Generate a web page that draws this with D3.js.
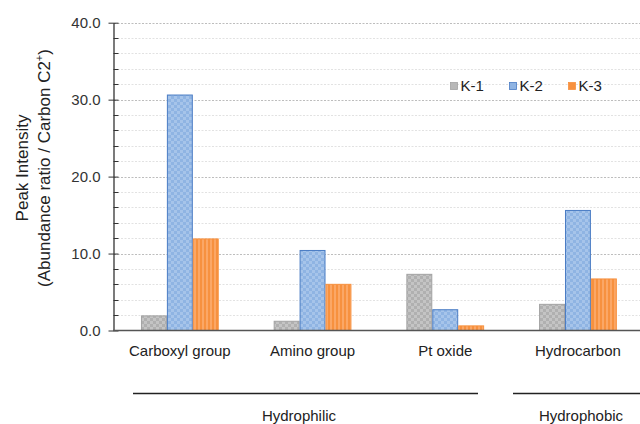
<!DOCTYPE html>
<html>
<head>
<meta charset="utf-8">
<script src="https://cdn.jsdelivr.net/npm/d3@7"></script>
<style>
  html, body { margin: 0; padding: 0; background: #fff; }
  svg { display: block; font-family: "Liberation Sans", Arial, sans-serif; }
</style>
</head>
<body>
<svg id="chart" width="640" height="424"></svg>
<script>
const categories = ["Carboxyl group", "Amino group", "Pt oxide", "Hydrocarbon"];
const seriesNames = ["K-1", "K-2", "K-3"];
const k1 = [1.9, 1.2, 7.3, 3.4];
const k2 = [30.6, 10.4, 2.7, 15.6];
const k3 = [11.9, 6.0, 0.6, 6.7];
const majorTicks = [0, 10, 20, 30, 40];
const minorTicks = [2, 4, 6, 8, 12, 14, 16, 18, 22, 24, 26, 28, 32, 34, 36, 38];
const groups = [
  { name: "Hydrophilic", from: 0, to: 2 },
  { name: "Hydrophobic", from: 3, to: 3 }
];

const seriesValues = [k1, k2, k3];
const svg = d3.select("#chart");

// patterns
const defs = svg.append("defs");
function checker(id, base, dot) {
  const p = defs.append("pattern").attr("id", id).attr("patternUnits", "userSpaceOnUse")
    .attr("width", 6).attr("height", 6);
  p.append("rect").attr("width", 6).attr("height", 6).attr("fill", base);
  p.append("rect").attr("x", 0).attr("y", 0).attr("width", 3).attr("height", 3).attr("fill", dot);
  p.append("rect").attr("x", 3).attr("y", 3).attr("width", 3).attr("height", 3).attr("fill", dot);
}
checker("pat0", "#c4c4c4", "#b0b0b0");
checker("pat1", "#8fb4e3", "#a6c4ea");
(function () {
  const p = defs.append("pattern").attr("id", "pat2").attr("patternUnits", "userSpaceOnUse")
    .attr("width", 4).attr("height", 4);
  p.append("rect").attr("width", 4).attr("height", 4).attr("fill", "#f7913f");
  p.append("rect").attr("x", 2).attr("width", 2).attr("height", 4).attr("fill", "#fba766");
})();

const fills = ["url(#pat0)", "url(#pat1)", "url(#pat2)"];
const strokes = ["#a3a3a3", "#4a7cc4", "#f7913f"];
const legendFills = ["#b8b8b8", "#8fb4e3", "#f7913f"];

const x0 = d3.scaleBand().domain(categories).range([113.5, 644.3]).paddingInner(0.414).paddingOuter(0.207);
const x1 = d3.scaleBand().domain(seriesNames).range([0, x0.bandwidth()]);
const y = d3.scaleLinear().domain([0, 40]).range([330.5, 22.7]);

// gridlines
svg.append("g").selectAll("line").data(minorTicks).join("line")
  .attr("x1", 114).attr("x2", 640)
  .attr("y1", d => Math.round(y(d)) + 0.5).attr("y2", d => Math.round(y(d)) + 0.5)
  .attr("stroke", "#e2e2e2").attr("stroke-dasharray", "2,1.5");
svg.append("g").selectAll("line").data(majorTicks.filter(d => d > 0)).join("line")
  .attr("x1", 114).attr("x2", 640)
  .attr("y1", d => Math.round(y(d)) + 0.5).attr("y2", d => Math.round(y(d)) + 0.5)
  .attr("stroke", "#bdbdbd").attr("stroke-dasharray", "2,1.5");

// bars
const barData = [];
categories.forEach((c, i) => seriesNames.forEach((s, j) => barData.push({ c, s, j, v: seriesValues[j][i] })));
svg.append("g").selectAll("rect").data(barData).join("rect")
  .attr("x", d => x0(d.c) + x1(d.s) + 0.5)
  .attr("y", d => y(d.v))
  .attr("width", x1.bandwidth() - 1)
  .attr("height", d => y(0) - y(d.v))
  .attr("fill", d => fills[d.j])
  .attr("stroke", d => strokes[d.j])
  .attr("stroke-width", 1);

// y axis
const yAxis = svg.append("g").attr("transform", "translate(113.5,0)")
  .call(d3.axisLeft(y).tickValues(majorTicks).tickFormat(d3.format(".1f")).tickSizeInner(5).tickSizeOuter(0));
yAxis.select(".domain").attr("stroke", "#333").attr("stroke-width", 1.3);
yAxis.selectAll(".tick line").attr("stroke", "#333").attr("x2", -5).attr("x1", 5);
yAxis.selectAll(".tick text").attr("font-size", 15).attr("fill", "#333").attr("x", -13)
  .attr("font-family", "Liberation Sans, Arial, sans-serif");
svg.append("g").selectAll("line").data(minorTicks).join("line")
  .attr("x1", 113.5).attr("x2", 118.5)
  .attr("y1", d => Math.round(y(d)) + 0.5).attr("y2", d => Math.round(y(d)) + 0.5)
  .attr("stroke", "#333");

// x axis baseline
svg.append("line").attr("x1", 113).attr("x2", 640).attr("y1", y(0)).attr("y2", y(0))
  .attr("stroke", "#555").attr("stroke-width", 1.6);

// category labels
svg.append("g").selectAll("text").data(categories).join("text")
  .attr("x", d => x0(d) + x0.bandwidth() / 2)
  .attr("y", 356)
  .attr("text-anchor", "middle").attr("font-size", 15).attr("fill", "#222")
  .text(d => d);

// group brackets
const gLines = [[133, 478], [513, 660]];
groups.forEach((g, i) => {
  svg.append("line").attr("x1", gLines[i][0]).attr("x2", gLines[i][1])
    .attr("y1", 393.5).attr("y2", 393.5).attr("stroke", "#222").attr("stroke-width", 1.3);
});
svg.append("text").attr("x", 299).attr("y", 421).attr("text-anchor", "middle")
  .attr("font-size", 15).attr("fill", "#222").text(groups[0].name);
svg.append("text").attr("x", 581).attr("y", 421).attr("text-anchor", "middle")
  .attr("font-size", 15).attr("fill", "#222").text(groups[1].name);

// y title
const yt = svg.append("text").attr("transform", "translate(0,168) rotate(-90)")
  .attr("text-anchor", "middle").attr("font-size", 17).attr("fill", "#222");
yt.append("tspan").attr("x", 0).attr("y", 28).text("Peak Intensity");
const t2 = yt.append("tspan").attr("x", 0).attr("y", 50);
t2.append("tspan").text("(Abundance ratio / Carbon C2");
t2.append("tspan").attr("dy", -7).attr("font-size", 11).text("+");
t2.append("tspan").attr("dy", 7).text(")");

// legend
const legX = [450.5, 509.5, 568.5];
const leg = svg.append("g").selectAll("g").data(seriesNames).join("g")
  .attr("transform", (d, i) => `translate(${legX[i]},82.5)`);
leg.append("rect").attr("width", 7).attr("height", 7)
  .attr("fill", (d, i) => legendFills[i]).attr("stroke", (d, i) => strokes[i]).attr("stroke-width", 0.8);
leg.append("text").attr("x", 10).attr("y", 8.5).attr("font-size", 15).attr("fill", "#222").text(d => d);
</script>
</body>
</html>
